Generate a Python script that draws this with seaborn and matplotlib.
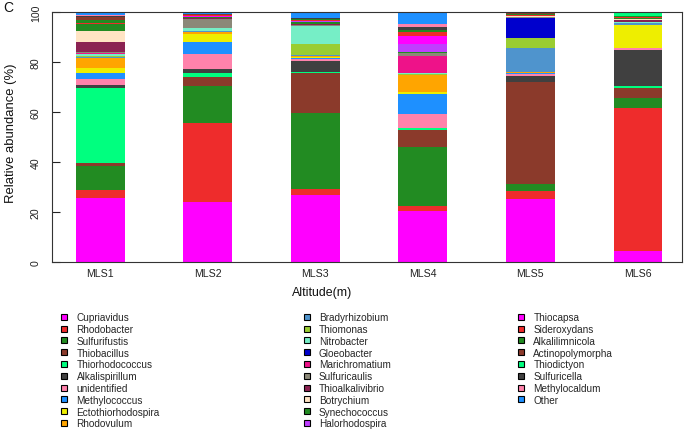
import matplotlib
matplotlib.use("Agg")
import matplotlib.pyplot as plt
from matplotlib.lines import Line2D
import seaborn as sns
import pandas as pd

samples = ["MLS1", "MLS2", "MLS3", "MLS4", "MLS5", "MLS6"]

taxa = ["Cupriavidus", "Rhodobacter", "Sulfurifustis", "Thiobacillus", "Thiorhodococcus",
        "Alkalispirillum", "unidentified", "Methylococcus", "Ectothiorhodospira", "Rhodovulum",
        "Bradyrhizobium", "Thiomonas", "Nitrobacter", "Gloeobacter", "Marichromatium",
        "Sulfuricaulis", "Thioalkalivibrio", "Botrychium", "Synechococcus", "Halorhodospira",
        "Thiocapsa", "Sideroxydans", "Alkalilimnicola", "Actinopolymorpha", "Thiodictyon",
        "Sulfuricella", "Methylocaldum", "Other"]

colors = ["#FF00FF", "#EE2C2C", "#228B22", "#8B3A2B", "#00FF7F",
          "#404040", "#FF82AB", "#1E90FF", "#EEEE00", "#FFA500",
          "#4F94CD", "#9ACD32", "#76EEC6", "#0000CD", "#EE1289",
          "#8B8878", "#8B2252", "#FFE4C4", "#228B22", "#BF3EFF",
          "#FF00FF", "#EE2C2C", "#228B22", "#8B3A2B", "#00FF7F",
          "#404040", "#FF82AB", "#1E90FF"]

mls1 = [25.7, 3.3, 9.6, 1.2, 29.9, 1.1, 2.4, 2.7, 1.9, 4.0, 0.4, 0.3, 1.0, 0.0, 0.2,
        0.3, 4.3, 4.4, 2.5, 0.0, 0.2, 0.5, 1.2, 0.9, 0.2, 0.3, 0.3, 1.2]
mls2 = [24.0, 31.7, 14.7, 3.9, 1.5, 1.7, 5.7, 5.1, 2.9, 1.1, 0.2, 0.2, 1.0, 0.0, 0.1,
        3.6, 0.3, 0.2, 0.3, 0.0, 0.2, 0.4, 0.2, 0.2, 0.1, 0.1, 0.1, 0.5]
mls3 = [27.1, 2.2, 30.4, 16.0, 0.3, 4.5, 1.0, 0.3, 0.5, 0.4, 0.2, 4.5, 7.1, 0.0, 0.2,
        0.3, 0.2, 0.1, 1.0, 0.1, 0.1, 0.3, 0.4, 0.2, 0.1, 0.1, 0.0, 2.4]
mls4 = [20.5, 2.2, 23.6, 6.8, 0.5, 0.1, 5.5, 8.3, 0.5, 6.9, 0.1, 0.5, 0.1, 0.0, 6.8,
        1.3, 0.1, 0.1, 0.2, 3.2, 3.2, 1.6, 0.8, 0.1, 0.0, 1.3, 1.0, 4.7]
mls5 = [25.5, 3.0, 2.7, 40.9, 0.1, 2.2, 1.1, 0.1, 0.1, 0.3, 9.7, 4.0, 0.1, 7.9, 0.1,
        0.3, 0.2, 0.1, 0.2, 0.0, 0.1, 0.2, 0.3, 0.4, 0.1, 0.1, 0.0, 0.2]
mls6 = [4.4, 57.3, 4.0, 4.0, 0.8, 14.5, 0.6, 0.1, 9.2, 0.1, 0.6, 0.2, 0.2, 0.0, 0.1,
        0.2, 0.8, 0.1, 0.5, 0.1, 0.1, 0.2, 0.3, 0.1, 1.1, 0.0, 0.0, 0.4]

yticks = [0, 20, 40, 60, 80, 100]

values = [mls1, mls2, mls3, mls4, mls5, mls6]
rows = []
for s, vals in zip(samples, values):
    for t, v in zip(taxa, vals):
        rows.append({"sample": s, "taxon": t, "value": v})
df = pd.DataFrame(rows)
palette = dict(zip(taxa, colors))

sns.set_theme(style="white")
plt.rcParams["font.family"] = ["Liberation Sans", "DejaVu Sans"]

W, H = 685, 431
fig = plt.figure(figsize=(W / 100, H / 100), dpi=100)
ax = fig.add_axes([52 / W, 1 - 263.3 / H, (682 - 52) / W, (263.3 - 13.3) / H])

sns.histplot(data=df, x="sample", hue="taxon", weights="value", multiple="stack",
             discrete=True, shrink=0.453, hue_order=taxa[::-1], palette=palette,
             alpha=1, linewidth=0, legend=False, ax=ax)

ax.set_xlim(-0.448, 5.41)
ax.set_ylim(0, 100)
ax.set_yticks(yticks)
ax.set_yticklabels([str(v) for v in yticks], rotation=90, va="center")
ax.set_xlabel("")
ax.set_ylabel("")
ax.tick_params(axis="y", direction="in", length=5.5, width=0.8, pad=8,
               labelsize=7.6, colors="#222222", left=True)
ax.tick_params(axis="x", length=0, pad=4, labelsize=7.6, colors="#222222")
for sp in ax.spines.values():
    sp.set_visible(True)
    sp.set_color("#333333")
    sp.set_linewidth(0.8)

fig.text(3 / W, 1 - 1 / H, "C", fontsize=10, ha="left", va="top", color="#111111")
fig.text(11 / W, 1 - 133 / H, "Relative abundance (%)", rotation=90, fontsize=9.4,
         ha="center", va="center", color="#111111")
fig.text(322 / W, 1 - 293 / H, "Altitude(m)", fontsize=8.9, ha="center", va="center",
         color="#111111")

cols = [(0, 10, 59.6), (10, 20, 301.8), (20, 28, 516.3)]
for a, b, xpx in cols:
    handles = [Line2D([], [], linestyle="none", marker="s", markersize=5.0,
                      markerfacecolor=colors[i], markeredgecolor="black",
                      markeredgewidth=0.8) for i in range(a, b)]
    fig.legend(handles, taxa[a:b], loc="upper left",
               bbox_to_anchor=(xpx / W, 1 - 313.3 / H), frameon=False,
               fontsize=7.2, handlelength=0.95, handletextpad=0.75,
               labelspacing=0.18, borderpad=0, borderaxespad=0)

fig.savefig("out.png", dpi=100)
